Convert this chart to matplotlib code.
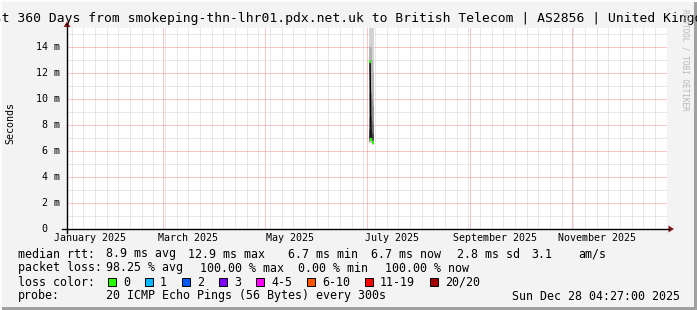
import datetime as dt
import matplotlib
matplotlib.use("Agg")
import matplotlib.pyplot as plt
import matplotlib.dates as mdates
from matplotlib.lines import Line2D
from matplotlib.patches import Rectangle, Polygon

# ---------------- data ----------------
end_time = dt.datetime(2025, 12, 28, 4, 27, 0)
span_days = 360
start_time = end_time - dt.timedelta(days=span_days)

# median rtt samples (ms) and their loss (0 lost pings)
median_times = ["2025-07-03 00:00", "2025-07-03 14:00", "2025-07-04 18:00"]
median_ms = [12.9, 6.9, 6.7]
median_loss = [0, 0, 0]

# smoke bins (edges) and layers (low, high in ms)
smoke_edges = ["2025-07-02 16:00", "2025-07-03 08:00", "2025-07-04 00:00",
               "2025-07-04 16:00", "2025-07-05 08:00"]
smoke_lo = [[6.6, 6.6, 6.5, 6.5], [6.7, 6.7, 6.6, 6.6], [6.8, 6.8, 6.7, 6.7],
            [6.9, 6.9, 6.8, 6.8], [7.0, 7.0, 6.9, 6.9]]
smoke_hi = [[30.0, 30.0, 30.0, 30.0], [14.0, 14.0, 13.0, 12.0], [10.5, 10.5, 10.0, 9.5],
            [8.6, 8.6, 8.3, 8.0], [7.6, 7.6, 7.4, 7.3]]

y_ticks = [0, 2, 4, 6, 8, 10, 12, 14]
y_tick_labels = [" 0", " 2 m", " 4 m", " 6 m", " 8 m", "10 m", "12 m", "14 m"]
x_label_dates = ["2025-01-16", "2025-03-16", "2025-05-16", "2025-07-16", "2025-09-16", "2025-11-16"]
x_labels = ["January 2025", "March 2025", "May 2025", "July 2025", "September 2025", "November 2025"]

title = "Last 360 Days from smokeping-thn-lhr01.pdx.net.uk to British Telecom | AS2856 | United Kingdom"

row_median = [("median rtt:", 17.5), ("8.9 ms avg", 106), ("12.9 ms max", 188), ("6.7 ms min", 288),
              ("6.7 ms now", 371), ("2.8 ms sd", 457), ("3.1", 531), ("am/s", 578.5)]
row_loss = [("packet loss:", 17.5), ("98.25 % avg", 106.5), ("100.00 % max", 200.5),
            ("0.00 % min", 298), ("100.00 % now", 385)]
loss_labels = ["0", "1", "2", "3", "4-5", "6-10", "11-19", "20/20"]
loss_colors = ["#26ff00", "#00b8ff", "#0059ff", "#7e00ff", "#ff00ff", "#ff5500", "#ff0000", "#a10000"]
loss_swatch_x = [108, 145, 182, 219, 256, 307, 365, 430]
probe_text = "20 ICMP Echo Pings (56 Bytes) every 300s"
date_text = "Sun Dec 28 04:27:00 2025"

# ---------------- figure ----------------
W, H = 697, 310
BG = "#f3f3f3"
MONO = "DejaVu Sans Mono"
fig = plt.figure(figsize=(W / 100, H / 100), dpi=100, facecolor=BG)


def fx(x):
    return x / W


def fy(y):
    return 1 - y / H


L, R, T, B = 67, 667, 28, 229
ax = fig.add_axes([fx(L), fy(B), fx(R - L), (B - T) / H])
ax.set_facecolor("white")
for s in ax.spines.values():
    s.set_visible(False)

x0 = mdates.date2num(start_time)
x1 = mdates.date2num(end_time)
ax.set_xlim(x0, x1)
ax.set_ylim(0, 15.5)

px = 0.72
MINOR_C = "#d2d2d2"
MAJOR_C = "#f09090"
# minor horizontal grid
for v in range(1, 16, 2):
    ax.axhline(v, color=MINOR_C, lw=px, ls=(0, (1, 1)), zorder=1)
for v in y_ticks[1:]:
    ax.axhline(v, color=MAJOR_C, lw=px, ls=(0, (1, 1)), zorder=1.5)
# weekly minor vertical grid (Sundays)
for d in mdates.drange(dt.datetime(2025, 1, 5), end_time, dt.timedelta(days=7)):
    ax.axvline(d, color=MINOR_C, lw=px, ls=(0, (1, 1)), zorder=1)
# major vertical grid every 2 months
major_months = [dt.datetime(2025, m, 1) for m in (3, 5, 7, 9, 11)]
for d in major_months:
    ax.axvline(mdates.date2num(d), color=MAJOR_C, lw=px, ls=(0, (1, 1)), zorder=1.5)

# smoke
edges = [mdates.date2num(dt.datetime.strptime(e, "%Y-%m-%d %H:%M")) for e in smoke_edges]
grays = ["#d2d2d2", "#b4b4b4", "#929292", "#6e6e6e", "#4a4a4a"]
for lo, hi, g in zip(smoke_lo, smoke_hi, grays):
    ax.fill_between(edges, lo + [lo[-1]], hi + [hi[-1]], step="post", color=g, lw=0, zorder=2)

# median line and loss-coloured points
mt = [mdates.date2num(dt.datetime.strptime(t, "%Y-%m-%d %H:%M")) for t in median_times]
ax.plot(mt[:2], median_ms[:2], color="black", lw=1.0, zorder=3)
ax.scatter(mt, median_ms, marker="s", s=4, color=[loss_colors[l] for l in median_loss],
           lw=0, zorder=4)

# ticks / labels
ax.set_xticks([mdates.date2num(dt.datetime.strptime(d, "%Y-%m-%d")) for d in x_label_dates])
ax.set_xticklabels(x_labels, fontsize=7.2, family=MONO)
ax.tick_params(axis="x", length=0, pad=3)
ax.set_yticks([])
ytr = ax.get_yaxis_transform()
for v, lab in zip(y_ticks, y_tick_labels):
    ax.text(-31 / 600, v, lab, transform=ytr, ha="left", va="center", fontsize=7.2, family=MONO)
fig.text(fx(10), fy(123), "Seconds", rotation=90, ha="center", va="center", fontsize=7.2, family=MONO)

# axes lines and arrows (figure pixel coords)
fig.add_artist(Line2D([fx(62), fx(669)], [fy(229), fy(229)], color="black", lw=1.0))
fig.add_artist(Line2D([fx(67), fx(67)], [fy(233), fy(26)], color="black", lw=1.0))
arrow_c = "#8b1a1a"
fig.add_artist(Polygon([(fx(668.5), fy(225.5)), (fx(668.5), fy(232.5)), (fx(674), fy(229))],
                       closed=True, color=arrow_c, lw=0))
fig.add_artist(Polygon([(fx(63.5), fy(27)), (fx(70.5), fy(27)), (fx(67), fy(21.5))],
                       closed=True, color=arrow_c, lw=0))

# title & watermark
fig.text(fx(348.5), fy(18.5), title, ha="center", va="center", fontsize=9.35, family=MONO)
fig.text(fx(685.5), fy(60), "RRDTOOL / TOBI OETIKER", rotation=-90, ha="center", va="center",
         fontsize=5.6, family=MONO, color="#b8b8b8")

# legend rows
LF = 8.4
for txt, x in row_median:
    fig.text(fx(x), fy(254), txt, ha="left", va="center", fontsize=LF, family=MONO)
for txt, x in row_loss:
    fig.text(fx(x), fy(268), txt, ha="left", va="center", fontsize=LF, family=MONO)
fig.text(fx(17.5), fy(282), "loss color:", ha="left", va="center", fontsize=LF, family=MONO)
for lab, col, x in zip(loss_labels, loss_colors, loss_swatch_x):
    fig.add_artist(Rectangle((fx(x), fy(286)), fx(8), 8 / H, facecolor=col, edgecolor="black", lw=0.7))
    fig.text(fx(x + 15), fy(282), lab, ha="left", va="center", fontsize=LF, family=MONO)
fig.text(fx(17.5), fy(296), "probe:", ha="left", va="center", fontsize=LF, family=MONO)
fig.text(fx(106.5), fy(296), probe_text, ha="left", va="center", fontsize=LF, family=MONO)
fig.text(fx(680), fy(296), date_text, ha="right", va="center", fontsize=LF, family=MONO)

# 3D frame
fig.add_artist(Rectangle((fx(694), 0), fx(3), 1, facecolor="#a0a0a0", lw=0))
fig.add_artist(Rectangle((0, 0), 1, 3 / H, facecolor="#a0a0a0", lw=0))
fig.add_artist(Rectangle((0, 0), fx(2), 1, facecolor="#fcfcfc", lw=0))
fig.add_artist(Rectangle((0, fy(2)), 1, 2 / H, facecolor="#fcfcfc", lw=0))

fig.savefig("out.png", dpi=100, facecolor=BG)
